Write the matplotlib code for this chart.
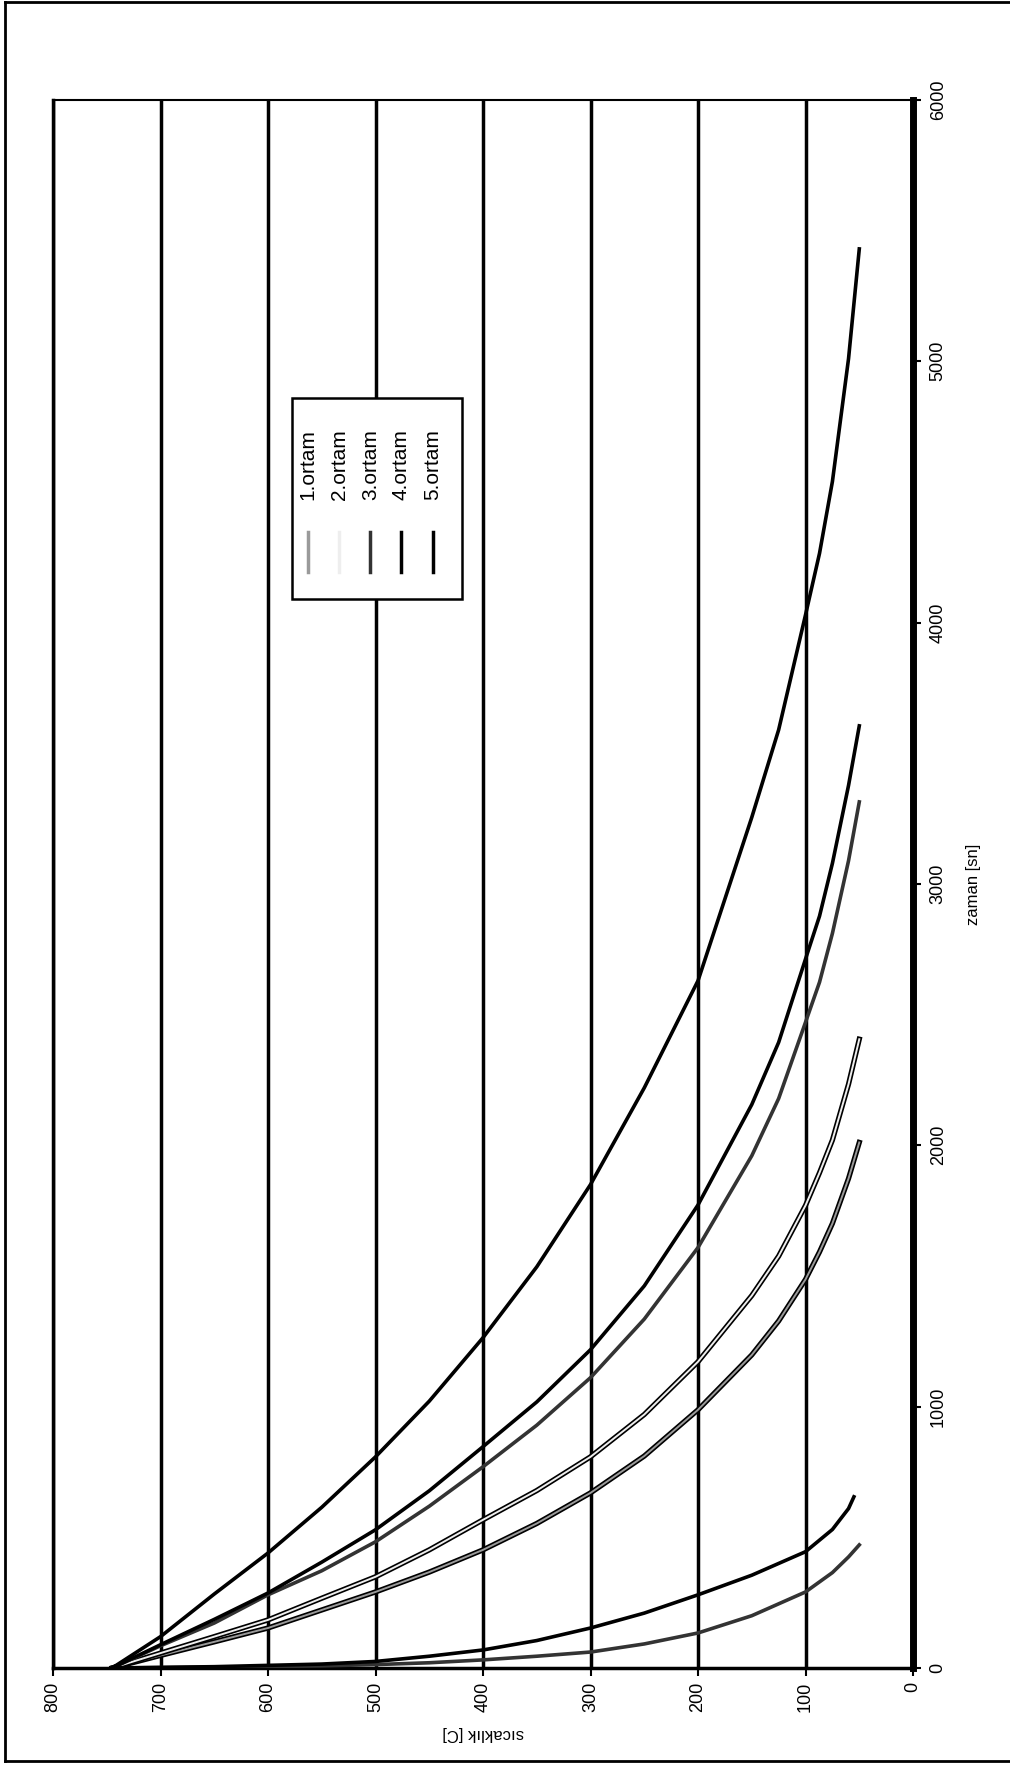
import matplotlib
matplotlib.use('Agg')
import matplotlib.pyplot as plt
import matplotlib.patheffects as pe
from matplotlib.lines import Line2D
from matplotlib.patches import Rectangle

plt.rcParams['font.family'] = ['Liberation Sans', 'DejaVu Sans']

# cooling curves: temperature [C] against time [s]
T_levels = [745, 700, 650, 600, 550, 500, 450, 400, 350, 300, 250, 200, 150, 125, 100, 87, 75, 60, 50]

ortam5_t = [0, 120, 283, 440, 615, 808, 1021, 1264, 1535, 1850, 2220, 2630, 3255, 3590, 4030, 4265, 4540, 5010, 5430]
ortam5_T = T_levels

ortam4a_t = [0, 89, 186, 287, 405, 529, 678, 847, 1018, 1218, 1462, 1772, 2156, 2394, 2713, 2877, 3079, 3377, 3605]
ortam4a_T = T_levels

ortam3a_t = [0, 85, 172, 280, 372, 483, 619, 770, 929, 1111, 1335, 1609, 1960, 2179, 2471, 2624, 2811, 3089, 3314]
ortam3a_T = T_levels

ortam2_t = [0, 57, 120, 184, 267, 349, 452, 567, 679, 808, 970, 1172, 1425, 1576, 1770, 1895, 2020, 2234, 2406]
ortam2_T = T_levels

ortam1_t = [0, 48, 100, 153, 222, 291, 367, 452, 553, 670, 811, 988, 1198, 1328, 1487, 1592, 1701, 1873, 2011]
ortam1_T = T_levels

ortam4b_t = [0, 5, 15, 25, 45, 69, 105, 153, 210, 280, 355, 445, 530, 610, 655]
ortam4b_T = [745, 650, 550, 500, 450, 400, 350, 300, 250, 200, 150, 100, 75, 60, 55]

ortam3b_t = [0, 3, 8, 13, 20, 31, 45, 61, 92, 134, 200, 291, 365, 425, 471]
ortam3b_T = [745, 650, 550, 500, 450, 400, 350, 300, 250, 200, 150, 100, 75, 60, 50]

series_names = ["1.ortam", "2.ortam", "3.ortam", "4.ortam", "5.ortam"]
series_colors = ["#9a9a9a", "#eeeeee", "#333333", "#000000", "#000000"]
series_outline = [True, True, False, False, False]
curves = [
    (0, ortam1_t, ortam1_T),
    (1, ortam2_t, ortam2_T),
    (2, ortam3a_t, ortam3a_T),
    (2, ortam3b_t, ortam3b_T),
    (3, ortam4a_t, ortam4a_T),
    (3, ortam4b_t, ortam4b_T),
    (4, ortam5_t, ortam5_T),
]

temp_ticks = list(range(0, 801, 100))
time_ticks = list(range(0, 6001, 1000))

fig = plt.figure(figsize=(10.10, 17.72), dpi=100)
ax = fig.add_axes([0.0525, 0.0587, 0.8515, 0.8849])

# chart is drawn turned a quarter turn: temperature runs right to left, time upward
for idx, t, T in curves:
    if series_outline[idx]:
        ax.plot(T, t, color=series_colors[idx], lw=1.4, zorder=3,
                path_effects=[pe.Stroke(linewidth=3.8, foreground='black'), pe.Normal()])
    else:
        ax.plot(T, t, color=series_colors[idx], lw=2.6, zorder=3)

ax.set_xlim(800, 0)
ax.set_ylim(0, 6000)
ax.set_xticks(temp_ticks)
ax.set_xticklabels([str(v) for v in temp_ticks], rotation=90, fontsize=13)
ax.yaxis.tick_right()
ax.set_yticks(time_ticks)
ax.set_yticklabels([str(v) for v in time_ticks], rotation=90, va='center', fontsize=13)
ax.tick_params(axis='both', length=6, width=1.5, color='black')
ax.tick_params(axis='x', pad=4)
ax.tick_params(axis='y', pad=6)

ax.grid(axis='x', color='black', lw=2.5, zorder=1)
ax.set_axisbelow(True)
ax.spines['left'].set_linewidth(2.5)
ax.spines['top'].set_linewidth(1.5)
ax.spines['bottom'].set_linewidth(2.5)
ax.spines['right'].set_linewidth(5)

ax.set_xlabel('sıcaklık [C]', fontsize=12, rotation=180, labelpad=10)
ax.yaxis.set_label_position('right')
ax.set_ylabel('zaman [sn]', fontsize=12, rotation=90, labelpad=14)

# legend, turned with the chart
ax.add_patch(Rectangle((0.278, 0.682), 0.197, 0.128, transform=ax.transAxes,
                       facecolor='white', edgecolor='black', lw=1.8, zorder=5))
for i, name in enumerate(series_names):
    x = 0.2965 + i * 0.0362
    ax.add_line(Line2D([x, x], [0.699, 0.7245], transform=ax.transAxes,
                       color=series_colors[i], lw=2.5, zorder=6))
    ax.text(x, 0.745, name, rotation=90, ha='center', va='bottom',
            transform=ax.transAxes, fontsize=15, zorder=6)

# outer frame of the scanned page
for xs, ys in [([0.005, 1.0], [0.999, 0.999]), ([0.005, 0.005], [0.006, 0.999]),
               ([0.005, 1.0], [0.006, 0.006])]:
    fig.add_artist(Line2D(xs, ys, transform=fig.transFigure, color='black', lw=2))

fig.savefig('out.png', dpi=100)
